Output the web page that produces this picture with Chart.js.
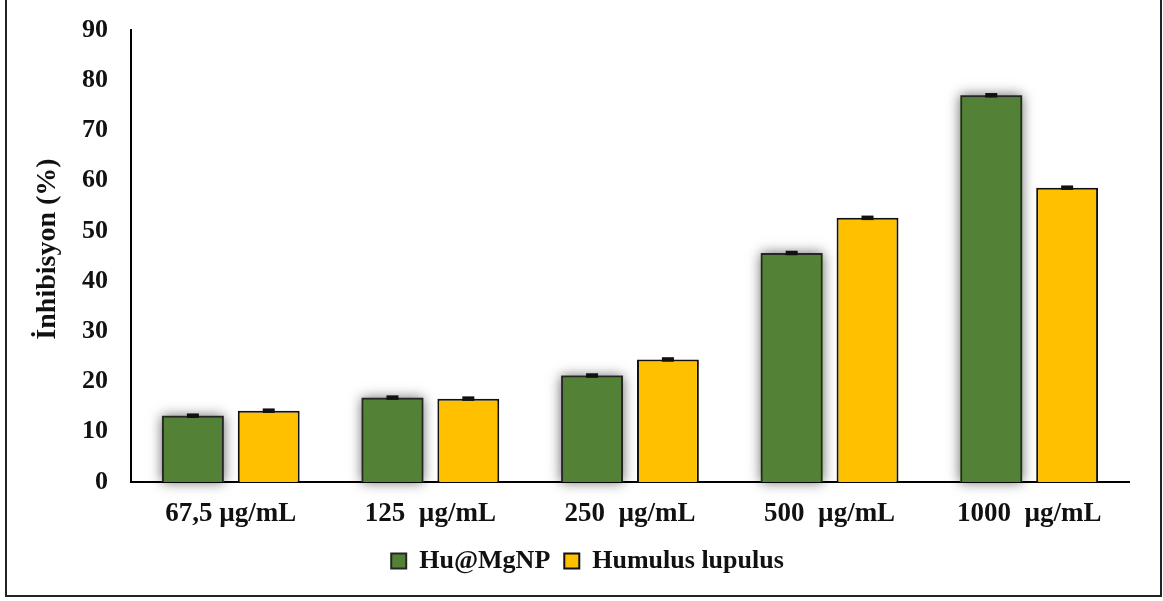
<!DOCTYPE html>
<html>
<head>
<meta charset="utf-8">
<script src="https://cdn.jsdelivr.net/npm/chart.js@4"></script>
<style>
  html, body { margin: 0; padding: 0; background: #fff; }
  #wrap { width: 1163px; height: 601px; }
</style>
</head>
<body>
<div id="wrap"><canvas id="chart"></canvas></div>
<script>
const categories = ['67,5 µg/mL', '125  µg/mL', '250  µg/mL', '500  µg/mL', '1000  µg/mL'];
const seriesNames = ['Hu@MgNP', 'Humulus lupulus'];
const nanoValues = [13.2, 16.8, 21.2, 45.6, 77.0];
const lupulusValues = [14.2, 16.6, 24.4, 52.6, 58.6];
const nanoErrors = [0.45, 0.45, 0.45, 0.45, 0.45];
const lupulusErrors = [0.45, 0.45, 0.45, 0.45, 0.45];
const yTicks = [0, 10, 20, 30, 40, 50, 60, 70, 80, 90];

const FONT = '"Liberation Serif", "Times New Roman", serif';

// soft grey glow behind the green bars (bar element clips its own shadow)
const glowPlugin = {
    id: 'glow',
    beforeDatasetDraw(chart, args) {
        if (args.index !== 0) return;
        const ctx = chart.ctx;
        ctx.save();
        ctx.shadowColor = 'rgba(0, 0, 0, 0.6)';
        ctx.shadowBlur = 12;
        ctx.fillStyle = '#538135';
        chart.getDatasetMeta(0).data.forEach(bar => {
            const p = bar.getProps(['x', 'y', 'base', 'width'], true);
            ctx.fillRect(p.x - p.width / 2, p.y, p.width, p.base - p.y);
        });
        ctx.restore();
    }
};

// small error bar caps
const errorPlugin = {
    id: 'errors',
    afterDatasetsDraw(chart) {
        const ctx = chart.ctx;
        const y = chart.scales.y;
        const errs = [nanoErrors, lupulusErrors];
        ctx.save();
        ctx.fillStyle = '#111';
        chart.data.datasets.forEach((ds, i) => {
            chart.getDatasetMeta(i).data.forEach((bar, j) => {
                const top = y.getPixelForValue(ds.data[j] + errs[i][j]);
                const bot = y.getPixelForValue(ds.data[j] - errs[i][j]);
                ctx.fillRect(bar.x - 6, top, 12, bot - top);
            });
        });
        ctx.restore();
    }
};

const framePlugin = {
    id: 'frame',
    afterDraw(chart) {
        const ctx = chart.ctx;
        ctx.save();
        ctx.strokeStyle = '#222';
        ctx.lineWidth = 2;
        ctx.strokeRect(6, -2, 1155, 598);
        ctx.restore();
    }
};

const ctx = document.getElementById('chart').getContext('2d');
window.myChart = new Chart(ctx, {
    type: 'bar',
    data: {
        labels: categories,
        datasets: [{
            label: seriesNames[0],
            data: nanoValues,
            backgroundColor: '#538135',
            borderColor: '#262626',
            borderWidth: 2
        }, {
            label: seriesNames[1],
            data: lupulusValues,
            backgroundColor: '#FFC000',
            borderColor: '#111',
            borderWidth: 2
        }]
    },
    options: {
        responsive: true,
        maintainAspectRatio: false,
        animation: false,
        datasets: {
            bar: {
                categoryPercentage: 0.76,
                barPercentage: 0.816
            }
        },
        layout: {
            padding: { top: 30, left: 46, right: 34, bottom: 17 }
        },
        plugins: {
            tooltip: { enabled: false },
            legend: {
                position: 'bottom',
                labels: {
                    boxWidth: 15,
                    boxHeight: 15,
                    padding: 14,
                    color: '#111',
                    font: { family: FONT, size: 26, weight: 'bold' }
                }
            }
        },
        scales: {
            y: {
                min: 0,
                max: 90,
                afterBuildTicks(scale) {
                    scale.ticks = yTicks.map(v => ({ value: v }));
                },
                afterFit(scale) {
                    scale.width = 85;
                    scale.paddingTop = 0;
                    scale.paddingBottom = 0;
                },
                grid: { display: false, drawTicks: false },
                border: { display: true, color: '#000', width: 2 },
                ticks: {
                    padding: 23,
                    color: '#111',
                    font: { family: FONT, size: 26, weight: 'bold' }
                },
                title: {
                    display: true,
                    text: '  İnhibisyon (%)',
                    color: '#111',
                    padding: { top: -15, bottom: 0 },
                    font: { family: FONT, size: 28, weight: 'bold' }
                }
            },
            x: {
                afterFit(scale) {
                    scale.height = 52;
                },
                grid: { display: false, drawTicks: false },
                border: { display: true, color: '#000', width: 2 },
                ticks: {
                    padding: 16,
                    color: '#111',
                    maxRotation: 0,
                    font: { family: FONT, size: 27, weight: 'bold' }
                }
            }
        }
    },
    plugins: [glowPlugin, errorPlugin, framePlugin]
});
</script>
</body>
</html>
